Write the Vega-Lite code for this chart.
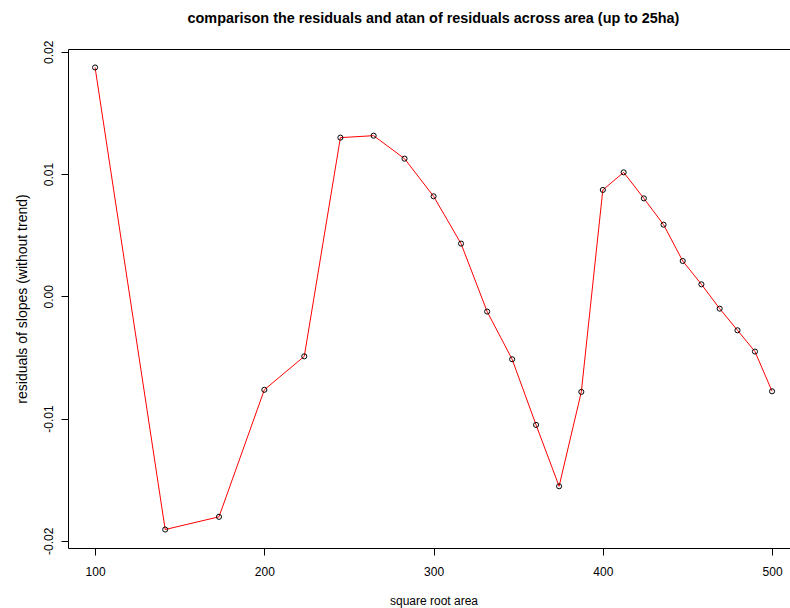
{
  "$schema": "https://vega.github.io/schema/vega-lite/v6.json",
  "width": 722,
  "height": 499,
  "autosize": {"type": "none"},
  "padding": {"left": 68, "top": 49, "right": 0, "bottom": 60},
  "background": "white",
  "config": {
    "view": {"stroke": null},
    "font": "Liberation Sans",
    "axis": {
      "grid": false,
      "domainColor": "black",
      "domainWidth": 1,
      "tickColor": "black",
      "tickWidth": 1,
      "tickSize": 7,
      "labelColor": "black",
      "labelFont": "Liberation Sans",
      "labelFontSize": 12,
      "titleColor": "black",
      "titleFont": "Liberation Sans",
      "titleFontSize": 12,
      "titleFontWeight": "normal",
      "labelFlush": false,
      "labelOverlap": false
    }
  },
  "title": {
    "text": "comparison the residuals and atan of residuals across area (up to 25ha)",
    "font": "Liberation Sans",
    "fontSize": 14.4,
    "fontWeight": "bold",
    "color": "black",
    "anchor": "middle",
    "baseline": "alphabetic",
    "offset": 3,
    "dx": 4.5
  },
  "data": {
    "values": [
      {"x": 100, "y": 0.01872},
      {"x": 141.42, "y": -0.01908},
      {"x": 173.21, "y": -0.01804},
      {"x": 200, "y": -0.00765},
      {"x": 223.61, "y": -0.00491},
      {"x": 244.95, "y": 0.01298},
      {"x": 264.58, "y": 0.01314},
      {"x": 282.84, "y": 0.01126},
      {"x": 300, "y": 0.00818},
      {"x": 316.23, "y": 0.00431},
      {"x": 331.66, "y": -0.00125},
      {"x": 346.41, "y": -0.00515},
      {"x": 360.56, "y": -0.01052},
      {"x": 374.17, "y": -0.01554},
      {"x": 387.3, "y": -0.00782},
      {"x": 400, "y": 0.0087},
      {"x": 412.31, "y": 0.01014},
      {"x": 424.26, "y": 0.00801},
      {"x": 435.89, "y": 0.00586},
      {"x": 447.21, "y": 0.00289},
      {"x": 458.26, "y": 0.00098},
      {"x": 469.04, "y": -0.00101},
      {"x": 479.58, "y": -0.00278},
      {"x": 489.9, "y": -0.00452},
      {"x": 500, "y": -0.00777}
    ]
  },
  "layer": [
    {
      "mark": {"type": "line", "color": "#ff0000", "strokeWidth": 1},
      "encoding": {
        "x": {
          "field": "x",
          "type": "quantitative",
          "scale": {"domain": [84, 510.6], "nice": false, "zero": false},
          "axis": {
            "orient": "bottom",
            "values": [100, 200, 300, 400, 500],
            "format": "d",
            "labelPadding": 11,
            "labelBaseline": "top",
            "title": "square root area",
            "titleX": 365.5,
            "titleY": 56,
            "titleAlign": "center",
            "titleBaseline": "alphabetic"
          }
        },
        "y": {
          "field": "y",
          "type": "quantitative",
          "title": "residuals of slopes (without trend)",
          "scale": {"domain": [-0.02059, 0.02023], "nice": false, "zero": false},
          "axis": {
            "orient": "left",
            "values": [-0.02, -0.01, 0, 0.01, 0.02],
            "labelExpr": "replace(format(datum.value, '.2f'), '−', '-')",
            "labelAngle": -90,
            "labelAlign": "center",
            "labelBaseline": "alphabetic",
            "labelPadding": 9,
            "titleAngle": -90,
            "titleFontSize": 14,
            "titleX": -42,
            "titleY": 249.5,
            "titleAlign": "center",
            "titleBaseline": "alphabetic"
          }
        }
      }
    },
    {
      "mark": {"type": "point", "shape": "circle", "filled": false, "color": "black", "size": 26, "strokeWidth": 1, "opacity": 1},
      "encoding": {
        "x": {
          "field": "x",
          "type": "quantitative",
          "axis": {"orient": "top", "labels": false, "ticks": false, "title": null, "domain": true}
        },
        "y": {
          "field": "y",
          "type": "quantitative",
          "title": "residuals of slopes (without trend)",
          "axis": {
            "orient": "left",
            "values": [-0.02, -0.01, 0, 0.01, 0.02],
            "labelExpr": "replace(format(datum.value, '.2f'), '−', '-')",
            "labelAngle": -90,
            "labelAlign": "center",
            "labelBaseline": "alphabetic",
            "labelPadding": 9,
            "titleAngle": -90,
            "titleFontSize": 14,
            "titleX": -42,
            "titleY": 249.5,
            "titleAlign": "center",
            "titleBaseline": "alphabetic"
          }
        }
      }
    }
  ],
  "resolve": {"axis": {"x": "independent"}}
}
